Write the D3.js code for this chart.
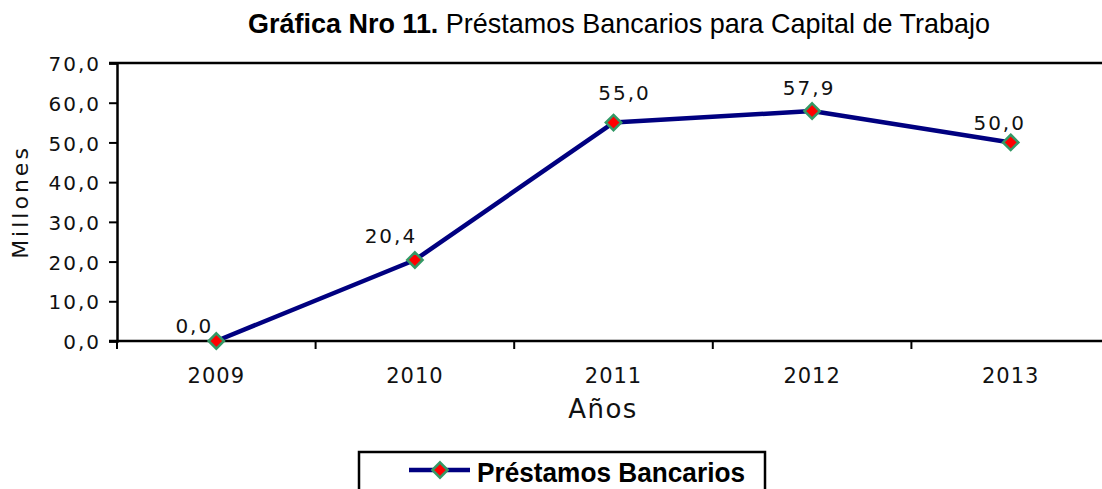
<!DOCTYPE html>
<html>
<head>
<meta charset="utf-8">
<script src="https://cdn.jsdelivr.net/npm/d3@7"></script>
<style>
  body{margin:0;background:#fff;}
  svg{display:block;}
  .tick text{font-family:"DejaVu Sans",Verdana,sans-serif;}
</style>
</head>
<body>
<div id="chart"></div>
<script>

var years     = ["2009","2010","2011","2012","2013"];
var prestamos = [0.0, 20.4, 55.0, 57.9, 50.0];
var yTicks    = [0,10,20,30,40,50,60,70];
var labelDx   = [-22, -24, 11, -3, -11];   // label nudges as in the original
var labelDy   = [-8, -17, -23, -16, -12];

var W = 1102, H = 489;
var margin = {top: 63, right: -8, bottom: 148, left: 117};

var svg = d3.select("#chart")
  .append("svg")
    .attr("width",W)
    .attr("height",H);

var x = d3.scaleBand()
  .domain(years)
  .range([margin.left, W - margin.right]);

var y = d3.scaleLinear()
  .domain([0,70])
  .range([H - margin.bottom, margin.top]);

var fmt = function(v){ return d3.format(".1f")(v).replace(".",","); };

//......................... Title ............................
var title = svg.append("text")
  .attr("x",248)
  .attr("y",33)
  .attr("textLength",742)
  .attr("lengthAdjust","spacingAndGlyphs")
  .style("font-family","'Liberation Sans',Arial,sans-serif")
  .style("font-size","28px");
title.append("tspan").style("font-weight","bold").text("Gráfica Nro 11.");
title.append("tspan").text(" Préstamos Bancarios para Capital de Trabajo");

//......................... Top border ............................
svg.append("line")
  .attr("x1",margin.left - 8)
  .attr("x2",W)
  .attr("y1",y(70))
  .attr("y2",y(70))
  .attr("stroke","#000")
  .attr("stroke-width",2.5);

//......................... Y axis ............................
var yAxis = svg.append("g")
  .attr("transform","translate("+margin.left+",0)")
  .call(d3.axisLeft(y).tickValues(yTicks).tickFormat(fmt).tickSize(8).tickPadding(8));
yAxis.select(".domain").attr("stroke-width",2.5);
yAxis.selectAll(".tick line").attr("stroke-width",2);
yAxis.selectAll(".tick text")
  .style("font-size","20px")
  .style("letter-spacing","2px")
  .attr("dy","0.38em")
  .attr("fill","#111");

//......................... X axis ............................
var xAxis = svg.append("g")
  .attr("transform","translate(0,"+y(0)+")")
  .call(d3.axisBottom(x).tickSize(0).tickPadding(27));
xAxis.select(".domain").remove();
xAxis.selectAll(".tick text")
  .style("font-size","21px")
  .style("letter-spacing","1px")
  .attr("fill","#111");

svg.append("line")
  .attr("x1",margin.left - 8)
  .attr("x2",W)
  .attr("y1",y(0))
  .attr("y2",y(0))
  .attr("stroke","#000")
  .attr("stroke-width",2.5);

svg.append("g")
  .selectAll("line")
  .data(years)
  .enter()
  .append("line")
  .attr("x1",function(d){return x(d)})
  .attr("x2",function(d){return x(d)})
  .attr("y1",y(0))
  .attr("y2",y(0) + 8)
  .attr("stroke","#000")
  .attr("stroke-width",2);

//......................... Axis titles ............................
svg.append("text")
  .attr("transform","translate(28,"+((y(0)+y(70))/2)+") rotate(-90)")
  .attr("text-anchor","middle")
  .style("font-family","'DejaVu Sans',Verdana,sans-serif")
  .style("font-size","22px")
  .style("letter-spacing","3px")
  .attr("fill","#111")
  .text("Millones");

svg.append("text")
  .attr("x",603)
  .attr("y",418)
  .attr("text-anchor","middle")
  .style("font-family","'DejaVu Sans',Verdana,sans-serif")
  .style("font-size","26px")
  .style("letter-spacing","1.5px")
  .attr("fill","#111")
  .text("Años");

//......................... Series ............................
var pts = d3.zip(years,prestamos);

var line = d3.line()
  .x(function(d){return x(d[0]) + x.bandwidth()/2})
  .y(function(d){return y(d[1])});

svg.append("path")
  .datum(pts)
  .attr("d",line)
  .attr("fill","none")
  .attr("stroke","#000080")
  .attr("stroke-width",4.5)
  .attr("stroke-linejoin","round");

var diamond = d3.symbol().type(d3.symbolDiamond2).size(150);

svg.append("g")
  .selectAll("path")
  .data(pts)
  .enter()
  .append("path")
  .attr("transform",function(d){return "translate("+(x(d[0]) + x.bandwidth()/2)+","+y(d[1])+")"})
  .attr("d",diamond)
  .attr("fill","#ff0000")
  .attr("stroke","#339966")
  .attr("stroke-width",2.5);

svg.append("g")
  .selectAll("text")
  .data(pts)
  .enter()
  .append("text")
  .attr("x",function(d,i){return x(d[0]) + x.bandwidth()/2 + labelDx[i]})
  .attr("y",function(d,i){return y(d[1]) + labelDy[i]})
  .attr("text-anchor","middle")
  .style("font-family","'DejaVu Sans',Verdana,sans-serif")
  .style("font-size","20px")
  .style("letter-spacing","2px")
  .attr("fill","#111")
  .text(function(d){return fmt(d[1])});

//......................... Legend ............................
var legend = svg.append("g")
  .attr("transform","translate(359,452)");

legend.append("rect")
  .attr("x",0)
  .attr("y",0)
  .attr("width",406)
  .attr("height",60)
  .attr("fill","#fff")
  .attr("stroke","#000")
  .attr("stroke-width",2.5);

legend.append("line")
  .attr("x1",50)
  .attr("x2",111)
  .attr("y1",18)
  .attr("y2",18)
  .attr("stroke","#000080")
  .attr("stroke-width",4.5);

legend.append("path")
  .attr("transform","translate(81,18)")
  .attr("d",diamond)
  .attr("fill","#ff0000")
  .attr("stroke","#339966")
  .attr("stroke-width",2.5);

legend.append("text")
  .attr("x",118)
  .attr("y",30)
  .attr("textLength",268)
  .attr("lengthAdjust","spacingAndGlyphs")
  .style("font-family","'Liberation Sans',Arial,sans-serif")
  .style("font-weight","bold")
  .style("font-size","28px")
  .text("Préstamos Bancarios");

</script>
</body>
</html>
